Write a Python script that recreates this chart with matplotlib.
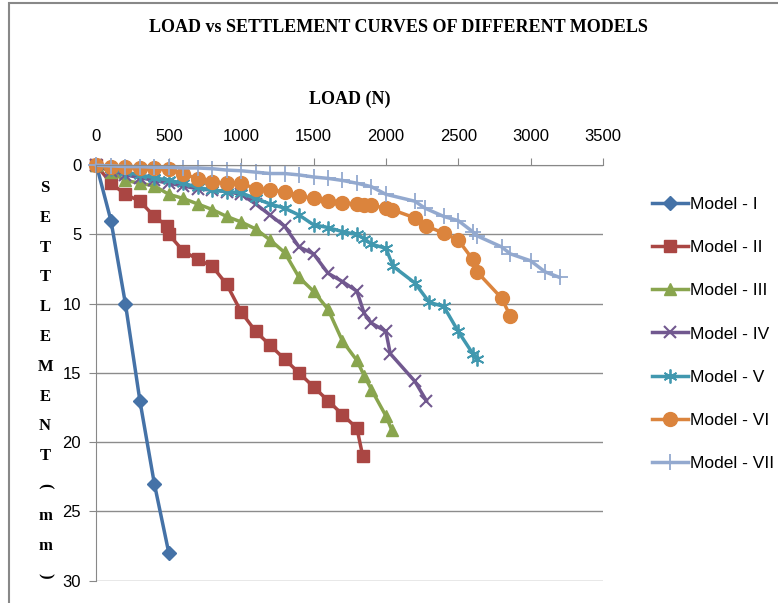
"""Load vs settlement curves for the seven footing models."""

import matplotlib.pyplot as plt
from matplotlib.patches import Rectangle

# load (N) and settlement (mm) read for each model
load_1 = [0, 100, 200, 300, 400, 500]
settle_1 = [0, 4, 10, 17, 23, 28]

load_2 = [0, 100, 200, 300, 400, 490, 500, 600, 700, 800, 900, 1000,
          1100, 1200, 1300, 1400, 1500, 1600, 1700, 1800, 1840]
settle_2 = [0, 1.3, 2.1, 2.6, 3.7, 4.4, 5.0, 6.2, 6.8, 7.3, 8.6, 10.6,
            12, 13, 14, 15, 16, 17, 18, 19, 21]

load_3 = [0, 100, 200, 300, 400, 500, 600, 700, 800, 900, 1000, 1100,
          1200, 1300, 1400, 1500, 1600, 1700, 1800, 1850, 1900, 2000, 2040]
settle_3 = [0, 0.5, 1.1, 1.3, 1.5, 2.1, 2.4, 2.8, 3.2, 3.7, 4.1, 4.6,
            5.4, 6.3, 8.1, 9.1, 10.4, 12.7, 14.1, 15.2, 16.2, 18.1, 19.1]

load_4 = [0, 100, 200, 300, 400, 500, 600, 700, 800, 900, 1000, 1100,
          1200, 1300, 1400, 1500, 1600, 1700, 1800, 1850, 1900, 2000,
          2030, 2200, 2280]
settle_4 = [0, 0.4, 0.7, 0.9, 1.1, 1.3, 1.5, 1.7, 1.8, 1.9, 2.1, 2.8,
            3.6, 4.4, 5.9, 6.4, 7.8, 8.4, 9.1, 10.7, 11.4, 12.0,
            13.6, 15.6, 17.0]

load_5 = [0, 100, 200, 300, 400, 500, 600, 700, 800, 900, 1000, 1100,
          1200, 1300, 1400, 1500, 1600, 1700, 1800, 1850, 1900, 2000,
          2050, 2200, 2300, 2400, 2500, 2600, 2630]
settle_5 = [0, 0.3, 0.5, 0.7, 0.9, 1.1, 1.3, 1.6, 1.8, 1.9, 2.0, 2.4,
            2.8, 3.1, 3.6, 4.3, 4.5, 4.8, 5.0, 5.3, 5.7, 6.0,
            7.3, 8.5, 9.9, 10.2, 12.0, 13.6, 14.0]

load_6 = [0, 100, 200, 300, 400, 500, 600, 700, 800, 900, 1000, 1100,
          1200, 1300, 1400, 1500, 1600, 1700, 1800, 1850, 1900, 2000,
          2040, 2200, 2280, 2400, 2500, 2600, 2630, 2800, 2860]
settle_6 = [0, 0.1, 0.15, 0.2, 0.2, 0.3, 0.6, 1.0, 1.2, 1.3, 1.3, 1.7,
            1.8, 1.9, 2.2, 2.4, 2.6, 2.7, 2.8, 2.9, 2.9, 3.1,
            3.2, 3.8, 4.4, 4.9, 5.4, 6.8, 7.7, 9.6, 10.9]

load_7 = [0, 100, 200, 300, 400, 500, 600, 700, 800, 900, 1000, 1100,
          1200, 1300, 1400, 1500, 1600, 1700, 1800, 1900, 2000, 2200,
          2270, 2400, 2500, 2600, 2630, 2800, 2860, 3000, 3100, 3200]
settle_7 = [0, 0.05, 0.1, 0.1, 0.15, 0.15, 0.2, 0.2, 0.25, 0.35, 0.4, 0.5,
            0.6, 0.6, 0.7, 0.85, 0.95, 1.1, 1.3, 1.55, 2.1, 2.6,
            3.1, 3.7, 4.0, 4.8, 5.1, 5.9, 6.4, 6.9, 7.7, 8.1]

model_names = ["Model - I", "Model - II", "Model - III", "Model - IV",
               "Model - V", "Model - VI", "Model - VII"]
x_ticks = [0, 500, 1000, 1500, 2000, 2500, 3000, 3500]
y_ticks = [0, 5, 10, 15, 20, 25, 30]
y_label = "SETTLEMENT(mm)"

series = [
    (load_1, settle_1, "#4572A7", dict(marker="D", ms=7)),
    (load_2, settle_2, "#AA4643", dict(marker="s", ms=9)),
    (load_3, settle_3, "#89A54E", dict(marker="^", ms=9)),
    (load_4, settle_4, "#71588F", dict(marker="x", ms=9, mew=1.5)),
    (load_5, settle_5, "#4198AF", dict(marker=(6, 2, 0), ms=10, mew=1.3)),
    (load_6, settle_6, "#DB843D", dict(marker="o", ms=10)),
    (load_7, settle_7, "#93A9CF", dict(marker="+", ms=11, mew=1.3)),
]

fig = plt.figure(figsize=(7.78, 6.03), dpi=100)
fig.patches.append(Rectangle((0.011, -0.01), 1.0, 1.005, transform=fig.transFigure,
                             fill=False, edgecolor="#888888", linewidth=1.5))
ax = fig.add_axes([0.124, 0.037, 0.651, 0.689])

for (xs, ys, color, style), name in zip(series, model_names):
    ax.plot(xs, ys, color=color, linewidth=2.5, label=name,
            markeredgecolor=color, markerfacecolor=color, clip_on=False, **style)

ax.set_xlim(0, 3500)
ax.set_ylim(30, 0)
ax.set_xticks(x_ticks)
ax.set_yticks(y_ticks)
ax.xaxis.tick_top()
ax.tick_params(labelsize=12, length=5, color="#888888")
ax.tick_params(axis="x", pad=10)
ax.tick_params(axis="y", pad=6)
for lbl in ax.get_xticklabels() + ax.get_yticklabels():
    lbl.set_family("Liberation Sans")
ax.grid(axis="y", color="#8c8c8c", linewidth=1)
ax.set_axisbelow(True)
for side in ["right", "bottom"]:
    ax.spines[side].set_visible(False)
for side in ["top", "left"]:
    ax.spines[side].set_color("#888888")

fig.text(0.512, 0.955, "LOAD vs SETTLEMENT CURVES OF DIFFERENT MODELS",
         ha="center", va="center", family="Liberation Serif",
         fontweight="bold", fontsize=13)
fig.text(0.45, 0.835, "LOAD (N)", ha="center", va="center",
         family="Liberation Serif", fontweight="bold", fontsize=13)

# stacked vertical axis title, brackets turned sideways
for i, ch in enumerate(y_label):
    rot = 270 if ch in "()" else 0
    fig.text(0.058, 1 - (188 + i * 29.8) / 603, ch, ha="center", va="center",
             family="Liberation Serif", fontweight="bold", fontsize=12,
             rotation=rot)

ax.legend(loc="upper left", bbox_to_anchor=(0.818, 0.7),
          bbox_transform=fig.transFigure, frameon=False,
          handlelength=2.1, handletextpad=0.1, labelspacing=1.62,
          prop={"family": "Liberation Sans", "size": 12.5})

fig.savefig("out.png", dpi=100)
